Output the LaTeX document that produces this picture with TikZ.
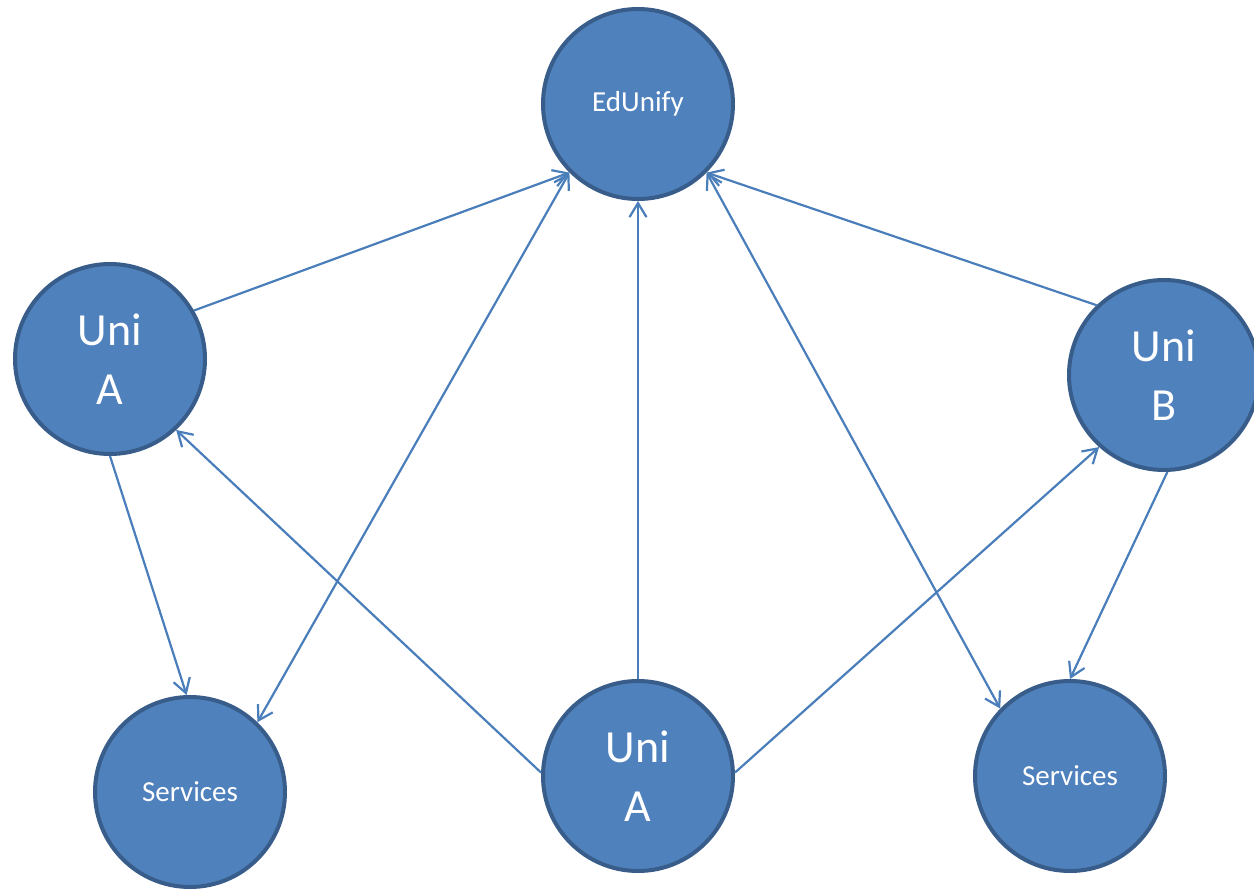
\documentclass[tikz,border=0pt]{standalone}
\usepackage{fontspec}
\setmainfont{Carlito}
\usetikzlibrary{arrows.meta}
\definecolor{cfill}{HTML}{4F81BD}
\definecolor{cdraw}{HTML}{385D8A}
\definecolor{cline}{HTML}{4A7EBB}
\tikzset{
  ball/.style={circle, fill=cfill, draw=cdraw, line width=4pt, minimum size=190pt, inner sep=0pt, outer sep=auto, text=white, align=center},
  bigtxt/.style={font=\fontsize{46pt}{59pt}\selectfont},
  smalltxt/.style={font=\fontsize{29pt}{34pt}\selectfont},
  conn/.style={draw=cline, line width=2.2pt, arrows={-Straight Barb[length=14pt, width=17pt, line width=2.2pt]}},
  dconn/.style={draw=cline, line width=2.2pt, arrows={Straight Barb[length=14pt, width=17pt, line width=2.2pt]-Straight Barb[length=14pt, width=17pt, line width=2.2pt]}}
}
\begin{document}
\begin{tikzpicture}[x=1pt, y=-1pt]
\useasboundingbox (0,0) rectangle (1254,889);
\node[ball, smalltxt] (edu) at (638,104) {EdUnify};
\node[ball, bigtxt] (ua) at (110,359) {Uni\\A};
\node[ball, bigtxt] (ub) at (1164,375) {Uni\\B};
\node[ball, smalltxt] (sl) at (190,792) {Services};
\node[ball, bigtxt] (uc) at (638,776) {Uni\\A};
\node[ball, smalltxt] (sr) at (1070,776) {Services};

\draw[conn] (ua.30) -- (edu.225);
\draw[dconn] (sl.46) -- (edu.225);
\draw[conn] (uc.90) -- (edu.270);
\draw[dconn] (edu.315) -- (sr.136);
\draw[conn] (ub.134) -- (edu.315);
\draw[conn] (uc.178) -- (ua.313);
\draw[conn] (uc.2) -- (ub.228);
\draw[conn] (ua.270) -- (sl.92);
\draw[conn] (ub.272) -- (sr.90);
\end{tikzpicture}
\end{document}
